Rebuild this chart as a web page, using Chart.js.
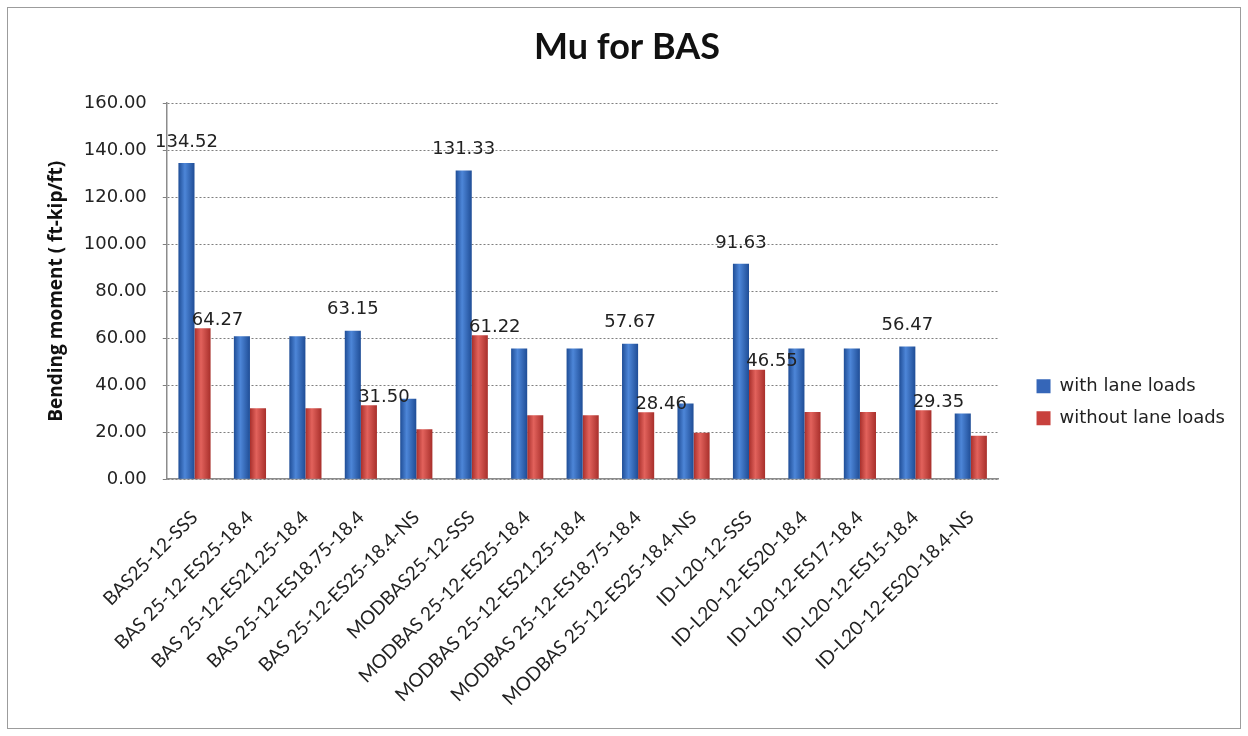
<!DOCTYPE html>
<html lang="en">
<head>
  <meta charset="UTF-8" />
  <title>Mu for BAS</title>
  <script src="https://cdn.jsdelivr.net/npm/chart.js"></script>
  <style>
    body { margin: 0; background: #fff; }
    .frame {
      position: absolute;
      left: 7px; top: 7px;
      width: 1232px; height: 720px;
      border: 1px solid #9c9c9c;
    }
    #muChart { width: 1232px !important; height: 720px !important; }
  </style>
</head>
<body>
  <div class="frame">
    <canvas id="muChart" width="1232" height="720"></canvas>
  </div>

  <script>
    const categories = [
      "BAS25-12-SSS",
      "BAS 25-12-ES25-18.4",
      "BAS 25-12-ES21.25-18.4",
      "BAS 25-12-ES18.75-18.4",
      "BAS 25-12-ES25-18.4-NS",
      "MODBAS25-12-SSS",
      "MODBAS 25-12-ES25-18.4",
      "MODBAS 25-12-ES21.25-18.4",
      "MODBAS 25-12-ES18.75-18.4",
      "MODBAS 25-12-ES25-18.4-NS",
      "ID-L20-12-SSS",
      "ID-L20-12-ES20-18.4",
      "ID-L20-12-ES17-18.4",
      "ID-L20-12-ES15-18.4",
      "ID-L20-12-ES20-18.4-NS"
    ];
    const withLaneLoads = [134.52, 60.8, 60.8, 63.15, 34.2, 131.33, 55.6, 55.6, 57.67, 32.2, 91.63, 55.6, 55.6, 56.47, 28.0];
    const withoutLaneLoads = [64.27, 30.2, 30.2, 31.50, 21.3, 61.22, 27.2, 27.2, 28.46, 19.8, 46.55, 28.6, 28.6, 29.35, 18.5];
    // only these bars carry a value label in the original
    const labelledBars = [0, 3, 5, 8, 10, 13];
    const yTicks = [0, 20, 40, 60, 80, 100, 120, 140, 160];

    const CAT_PCT = 0.58;

    // cylinder-ish shading, like the old Excel bars
    function cylinder(dark, light, flat) {
      return (c) => {
        const xs = c.chart.scales.x;
        if (c.type !== "data" || !xs || !xs.width) return flat;
        const slot = xs.width / categories.length * CAT_PCT / 2;
        const cx = xs.getPixelForValue(c.dataIndex) + (c.datasetIndex === 0 ? -slot / 2 : slot / 2);
        const g = c.chart.ctx.createLinearGradient(cx - slot / 2, 0, cx + slot / 2, 0);
        g.addColorStop(0, dark);
        g.addColorStop(0.4, light);
        g.addColorStop(1, dark);
        return g;
      };
    }

    const valueLabels = {
      id: "valueLabels",
      afterDatasetsDraw(chart, args, opts) {
        const ctx = chart.ctx;
        ctx.save();
        ctx.font = opts.font;
        ctx.fillStyle = opts.color;
        ctx.textAlign = "center";
        ctx.textBaseline = "middle";
        chart.data.datasets.forEach((ds, di) => {
          const meta = chart.getDatasetMeta(di);
          const off = opts.offsets[di];
          labelledBars.forEach((i) => {
            const bar = meta.data[i];
            ctx.fillText(ds.data[i].toFixed(2), bar.x + off.dx, bar.y - off.dy);
          });
        });
        ctx.restore();
      }
    };

    const ctx = document.getElementById("muChart").getContext("2d");
    new Chart(ctx, {
      type: "bar",
      data: {
        labels: categories,
        datasets: [
          {
            label: "with lane loads",
            data: withLaneLoads,
            backgroundColor: cylinder("#1f4d96", "#4d86d8", "#3566b8"),
            categoryPercentage: CAT_PCT,
            barPercentage: 1.0
          },
          {
            label: "without lane loads",
            data: withoutLaneLoads,
            backgroundColor: cylinder("#a82f2b", "#e2625c", "#c8413d"),
            categoryPercentage: CAT_PCT,
            barPercentage: 1.0
          }
        ]
      },
      plugins: [valueLabels],
      options: {
        responsive: false,
        animation: false,
        layout: { padding: { left: 11, right: 5, bottom: 10 } },
        plugins: {
          title: {
            display: true,
            text: "Mu for BAS",
            color: "#111",
            font: { family: "Lato", size: 36, weight: "bold" },
            padding: { top: 18, bottom: 34 }
          },
          legend: {
            position: "right",
            title: { display: true, text: " ", padding: { top: 32, bottom: 32 } },
            labels: {
              color: "#222",
              font: { family: "DejaVu Sans", size: 18 },
              boxWidth: 14,
              boxHeight: 14,
              padding: 14,
              generateLabels(chart) {
                const solid = ["#3566b8", "#c8413d"];
                return Chart.defaults.plugins.legend.labels.generateLabels(chart).map((l, i) => {
                  l.fillStyle = solid[i];
                  l.strokeStyle = solid[i];
                  l.lineWidth = 0;
                  return l;
                });
              }
            }
          },
          tooltip: { enabled: false },
          valueLabels: {
            font: "18px 'DejaVu Sans'",
            color: "#222",
            offsets: [{ dx: 0, dy: 21 }, { dx: 15, dy: 8 }]
          }
        },
        scales: {
          x: {
            grid: { display: false, drawTicks: false },
            border: { color: "#8c8c8c", width: 1.5 },
            ticks: {
              color: "#222",
              font: { family: "Lato", size: 19 },
              minRotation: 45,
              maxRotation: 45,
              padding: 27
            },
            // the rotated labels get more room than they need
            afterFit(scale) { scale.height -= 19; }
          },
          y: {
            min: 0,
            max: 160,
            afterBuildTicks(axis) { axis.ticks = yTicks.map((v) => ({ value: v })); },
            border: { color: "#8c8c8c", width: 1.5, dash: [2, 2] },
            grid: {
              color: "#7f7f7f",
              lineWidth: 1,
              tickLength: 4
            },
            ticks: {
              color: "#222",
              font: { family: "DejaVu Sans", size: 18 },
              padding: 16,
              callback: (v) => Number(v).toFixed(2)
            },
            title: {
              display: true,
              text: "Bending moment ( ft-kip/ft)",
              color: "#111",
              font: { family: "Open Sans", size: 19, weight: "bold" },
              padding: { top: 26, bottom: 0 }
            }
          },
          // empty spacer between the plot and the legend (hidden, so it
          // does not count against the legend's share of the width)
          spacer: {
            type: "linear",
            position: "right",
            display: false,
            afterFit(scale) { scale.width = 24; }
          }
        }
      }
    });
  </script>
</body>
</html>
